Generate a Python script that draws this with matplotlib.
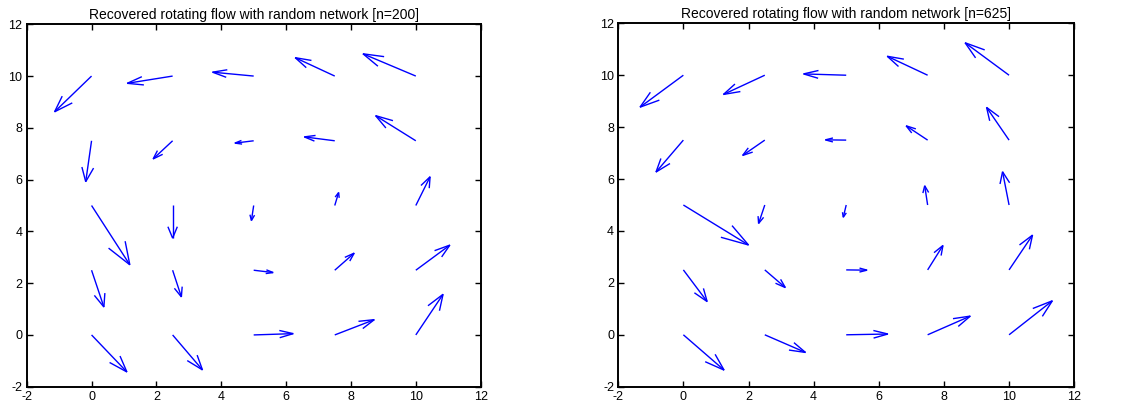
import numpy as np
import matplotlib
matplotlib.use("Agg")
import matplotlib.pyplot as plt

plt.rcParams['font.family'] = ['Liberation Sans', 'DejaVu Sans']

# Grid of sample positions
grid_x = [0, 2.5, 5, 7.5, 10]
grid_y = [0, 2.5, 5, 7.5, 10]

# Recovered flow, n=200 (rows follow grid_y, columns follow grid_x)
u_200 = [
    [1.09, 0.92, 1.22, 1.22, 0.84],
    [0.38, 0.27, 0.60, 0.60, 1.05],
    [1.18, 0.00, -0.07, 0.12, 0.44],
    [-0.18, -0.60, -0.58, -0.94, -1.24],
    [-1.14, -1.40, -1.27, -1.22, -1.63],
]
v_200 = [
    [-1.43, -1.35, 0.05, 0.59, 1.57],
    [-1.42, -1.03, -0.09, 0.66, 0.97],
    [-2.29, -1.26, -0.58, 0.50, 1.11],
    [-1.58, -0.70, -0.09, 0.15, 0.97],
    [-1.38, -0.28, 0.15, 0.71, 0.86],
]

# Recovered flow, n=625
u_625 = [
    [1.25, 1.25, 1.28, 1.31, 1.33],
    [0.73, 0.63, 0.64, 0.47, 0.72],
    [2.00, -0.19, -0.09, -0.09, -0.20],
    [-0.84, -0.68, -0.64, -0.66, -0.69],
    [-1.33, -1.27, -1.31, -1.24, -1.35],
]
v_625 = [
    [-1.36, -0.68, 0.03, 0.72, 1.31],
    [-1.22, -0.68, -0.01, 0.94, 1.34],
    [-1.54, -0.71, -0.47, 0.74, 1.28],
    [-1.23, -0.59, 0.01, 0.55, 1.26],
    [-1.23, -0.74, 0.05, 0.73, 1.25],
]

titles = ["Recovered rotating flow with random network [n=200]",
          "Recovered rotating flow with random network [n=625]"]

ticks = [-2, 0, 2, 4, 6, 8, 10, 12]


def draw_quiver(ax, x, y, u, v, alpha=0.33, beta=0.33, color=(0, 0, 1)):
    """Line-based arrows with open V heads scaled to each vector's length."""
    X, Y = np.meshgrid(x, y)
    U = np.asarray(u, dtype=float)
    V = np.asarray(v, dtype=float)
    X, Y, U, V = X.ravel(), Y.ravel(), U.ravel(), V.ravel()
    eps = 1e-12
    for x0, y0, du, dv in zip(X, Y, U, V):
        ax.plot([x0, x0 + du], [y0, y0 + dv], color=color, lw=1.0,
                solid_capstyle='butt')
        hx = [x0 + du - alpha * (du + beta * (dv + eps)), x0 + du,
              x0 + du - alpha * (du - beta * (dv + eps))]
        hy = [y0 + dv - alpha * (dv - beta * (du + eps)), y0 + dv,
              y0 + dv - alpha * (dv + beta * (du + eps))]
        ax.plot(hx, hy, color=color, lw=1.0, solid_joinstyle='miter')


fig = plt.figure(figsize=(11.22, 4.11), dpi=100)
axes = [fig.add_axes([0.0238, 0.0591, 0.4046, 0.8818]),
        fig.add_axes([0.5510, 0.0591, 0.4064, 0.8842])]

for ax, (u, v), title in zip(axes, [(u_200, v_200), (u_625, v_625)], titles):
    draw_quiver(ax, grid_x, grid_y, u, v)
    ax.set_xlim(-2, 12)
    ax.set_ylim(-2, 12)
    ax.set_xticks(ticks)
    ax.set_yticks(ticks)
    ax.set_xticklabels([str(t) for t in ticks])
    ax.set_yticklabels([str(t) for t in ticks])
    ax.tick_params(direction='in', length=4, width=1.0, labelsize=9,
                   top=True, right=True, pad=3)
    for s in ax.spines.values():
        s.set_linewidth(1.4)
    ax.set_title(title, fontsize=10, pad=4)

fig.savefig("out.png", dpi=100, facecolor='white')
